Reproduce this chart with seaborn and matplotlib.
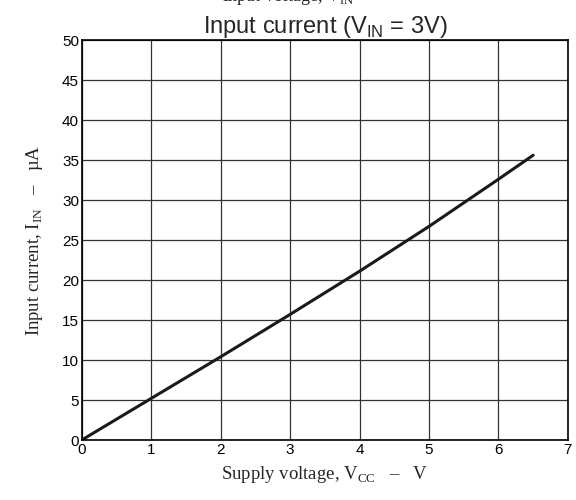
import pandas as pd
import matplotlib
matplotlib.use("Agg")
import matplotlib.pyplot as plt
import seaborn as sns

# valores
vcc = [0, 1, 2, 3, 4, 5, 6, 6.5]
i_in = [0, 5.2, 10.4, 15.7, 21.1, 26.7, 32.6, 35.6]
x_ticks = [0, 1, 2, 3, 4, 5, 6, 7]
y_ticks = [0, 5, 10, 15, 20, 25, 30, 35, 40, 45, 50]

sns.set_style("white")
plt.rcParams['font.family'] = ['Liberation Sans', 'DejaVu Sans']
plt.rcParams['mathtext.fontset'] = 'custom'
plt.rcParams['mathtext.rm'] = 'Liberation Serif'
plt.rcParams['mathtext.sf'] = 'Liberation Sans'

df = pd.DataFrame({"vcc": vcc, "i_in": i_in})

fig = plt.figure(figsize=(5.76, 5.0), dpi=100)
ax = fig.add_axes([0.142, 0.12, 0.844, 0.80])

sns.lineplot(data=df, x="vcc", y="i_in", color="#1a1a1a", linewidth=2.2, ax=ax)

ax.set_xlim(0, 7)
ax.set_ylim(0, 50)
ax.set_xticks(x_ticks)
ax.set_yticks(y_ticks)
ax.tick_params(length=0, labelsize=11, colors="black", pad=2)
ax.grid(True, color="#333333", linewidth=0.9)
for s in ax.spines.values():
    s.set_color("black")
    s.set_linewidth(1.2)

serif = ['Liberation Serif', 'DejaVu Serif']
ax.set_xlabel(r"Supply voltage, V$_{\mathrm{CC}}$   –   V", family=serif, fontsize=13.5, labelpad=5)
ax.set_ylabel(r"Input current, I$_{\mathrm{IN}}$   –   µA", family=serif, fontsize=13.5, labelpad=12)
ax.set_title(r"Input current (V$_{\mathsf{IN}}$ = 3V)", fontsize=17, pad=5)

# texto cortado no topo da figura, como na referência
fig.text(0.5, 0.998, r"Input voltage, V$_{\mathrm{IN}}$", family=serif, fontsize=13,
         ha="center", va="baseline")

fig.savefig("out.png", dpi=100)
